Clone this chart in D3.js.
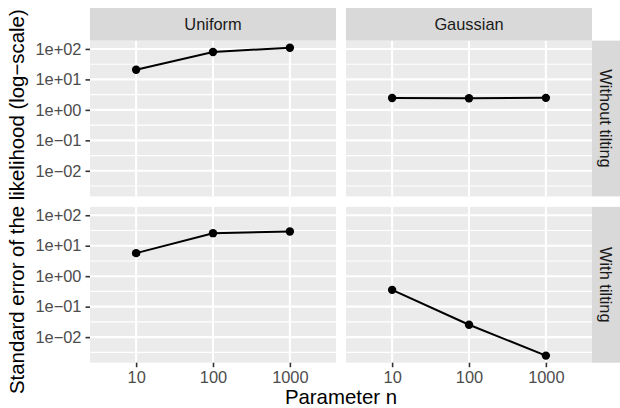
<!DOCTYPE html>
<html><head><meta charset="utf-8">
<script src="https://cdn.jsdelivr.net/npm/d3@7"></script>
<style>body{margin:0;background:#fff}svg{display:block}</style>
</head><body>
<script>
const colLabels = ["Uniform", "Gaussian"];
const rowLabels = ["Without tilting", "With tilting"];
const nValues = [10, 100, 1000];
const uniformWithout = [20.8, 79.7, 110];
const gaussianWithout = [2.45, 2.42, 2.48];
const uniformWith = [5.7, 25.8, 29.3];
const gaussianWith = [0.355, 0.0254, 0.00247];
const yTickValues = [1e2, 1e1, 1e0, 1e-1, 1e-2];
const yTickLabels = ["1e+02", "1e+01", "1e+00", "1e\u221201", "1e\u221202"];
const xTickValues = [10, 100, 1000];
const xTickLabels = ["10", "100", "1000"];
const yTitle = "Standard error of the likelihood (log\u2212scale)";
const xTitle = "Parameter n";

const series = [
  {row: 0, col: 0, values: uniformWithout},
  {row: 0, col: 1, values: gaussianWithout},
  {row: 1, col: 0, values: uniformWith},
  {row: 1, col: 1, values: gaussianWith}
];

const W = 620, H = 408;
const panelX = [90, 346], panelW = 246;
const panelY = [40.6, 206.9], panelH = 155.8;
const stripTop = 8, stripRightX = 592, stripRightW = 30;
const font = "Liberation Sans, Arial, Helvetica, sans-serif";
const smallSize = 16.4, titleSize = 20.4;

const svg = d3.select("body").append("svg").attr("width", W).attr("height", H);

// x scale: log, padded by 0.6 decades each side
const xPadDec = 0.6;
const xExt = d3.extent(nValues).map(Math.log10);
const x = d3.scaleLog().domain([Math.pow(10, xExt[0] - xPadDec), Math.pow(10, xExt[1] + xPadDec)]).range([0, panelW]);

// y scale: log, shared, 5% expansion
const allVals = [].concat(uniformWithout, gaussianWithout, uniformWith, gaussianWith).map(Math.log10);
const yMin = d3.min(allVals), yMax = d3.max(allVals), yr = yMax - yMin;
const y = d3.scaleLog().domain([Math.pow(10, yMin - 0.05 * yr), Math.pow(10, yMax + 0.05 * yr)]).range([panelH, 0]);

const yMinor = [];
for (let e = -4; e <= 3; e++) {
  const v = Math.pow(10, e + 0.5);
  if (v > y.domain()[0] && v < y.domain()[1]) yMinor.push(v);
}

for (let r = 0; r < 2; r++) {
  for (let c = 0; c < 2; c++) {
    const g = svg.append("g").attr("transform", `translate(${panelX[c]},${panelY[r]})`);
    g.append("rect").attr("width", panelW).attr("height", panelH).attr("fill", "#EBEBEB");
    g.selectAll(".ymin").data(yMinor).enter().append("line")
      .attr("x1", 0).attr("x2", panelW).attr("y1", d => y(d)).attr("y2", d => y(d))
      .attr("stroke", "#fff").attr("stroke-width", 1.1);
    g.selectAll(".ymaj").data(yTickValues).enter().append("line")
      .attr("x1", 0).attr("x2", panelW).attr("y1", d => y(d)).attr("y2", d => y(d))
      .attr("stroke", "#fff").attr("stroke-width", 2.1);
    g.selectAll(".xmaj").data(xTickValues).enter().append("line")
      .attr("y1", 0).attr("y2", panelH).attr("x1", d => x(d)).attr("x2", d => x(d))
      .attr("stroke", "#fff").attr("stroke-width", 2.1);
    const s = series.find(d => d.row === r && d.col === c);
    const pts = nValues.map((n, i) => [n, s.values[i]]);
    g.append("path").datum(pts)
      .attr("d", d3.line().x(d => x(d[0])).y(d => y(d[1])))
      .attr("fill", "none").attr("stroke", "#000").attr("stroke-width", 2);
    g.selectAll(".pt").data(pts).enter().append("circle")
      .attr("cx", d => x(d[0])).attr("cy", d => y(d[1])).attr("r", 4.2).attr("fill", "#000");
  }
}

// top strips
colLabels.forEach((lab, c) => {
  svg.append("rect").attr("x", panelX[c]).attr("y", stripTop).attr("width", panelW)
    .attr("height", panelY[0] - stripTop).attr("fill", "#D9D9D9");
  svg.append("text").attr("x", panelX[c] + panelW / 2).attr("y", (stripTop + panelY[0]) / 2)
    .attr("dy", "0.35em").attr("text-anchor", "middle").attr("font-family", font)
    .attr("font-size", smallSize).attr("fill", "#1A1A1A").text(lab);
});
// right strips
rowLabels.forEach((lab, r) => {
  svg.append("rect").attr("x", stripRightX).attr("y", panelY[r]).attr("width", stripRightW)
    .attr("height", panelH).attr("fill", "#D9D9D9");
  const cx = stripRightX + 14, cy = panelY[r] + panelH / 2;
  svg.append("text").attr("transform", `translate(${cx},${cy}) rotate(90)`)
    .attr("dy", "0.35em").attr("text-anchor", "middle").attr("font-family", font)
    .attr("font-size", smallSize).attr("fill", "#1A1A1A").text(lab);
});

// y axes (left)
for (let r = 0; r < 2; r++) {
  const g = svg.append("g").attr("transform", `translate(${panelX[0]},${panelY[r]})`);
  const ax = d3.axisLeft(y).tickValues(yTickValues).tickFormat((d, i) => yTickLabels[i]).tickSize(4.5).tickPadding(4);
  g.call(ax);
  g.select(".domain").remove();
  g.selectAll(".tick line").attr("stroke", "#333333").attr("stroke-width", 1.6);
  g.selectAll(".tick text").attr("font-family", font).attr("font-size", smallSize).attr("fill", "#4D4D4D");
}
// x axes (bottom)
for (let c = 0; c < 2; c++) {
  const g = svg.append("g").attr("transform", `translate(${panelX[c]},${panelY[1] + panelH})`);
  const ax = d3.axisBottom(x).tickValues(xTickValues).tickFormat((d, i) => xTickLabels[i]).tickSize(4.5).tickPadding(4);
  g.call(ax);
  g.select(".domain").remove();
  g.selectAll(".tick line").attr("stroke", "#333333").attr("stroke-width", 1.6);
  g.selectAll(".tick text").attr("font-family", font).attr("font-size", smallSize).attr("fill", "#4D4D4D");
}

// titles
svg.append("text").attr("x", (panelX[0] + panelX[1] + panelW) / 2).attr("y", 403.5)
  .attr("text-anchor", "middle").attr("font-family", font).attr("font-size", titleSize).attr("fill", "#000").text(xTitle);
svg.append("text").attr("transform", `translate(17,${(panelY[0] + panelY[1] + panelH) / 2}) rotate(-90)`)
  .attr("dy", "0.35em").attr("text-anchor", "middle").attr("font-family", font).attr("font-size", titleSize).attr("fill", "#000").text(yTitle);
</script>
</body></html>
